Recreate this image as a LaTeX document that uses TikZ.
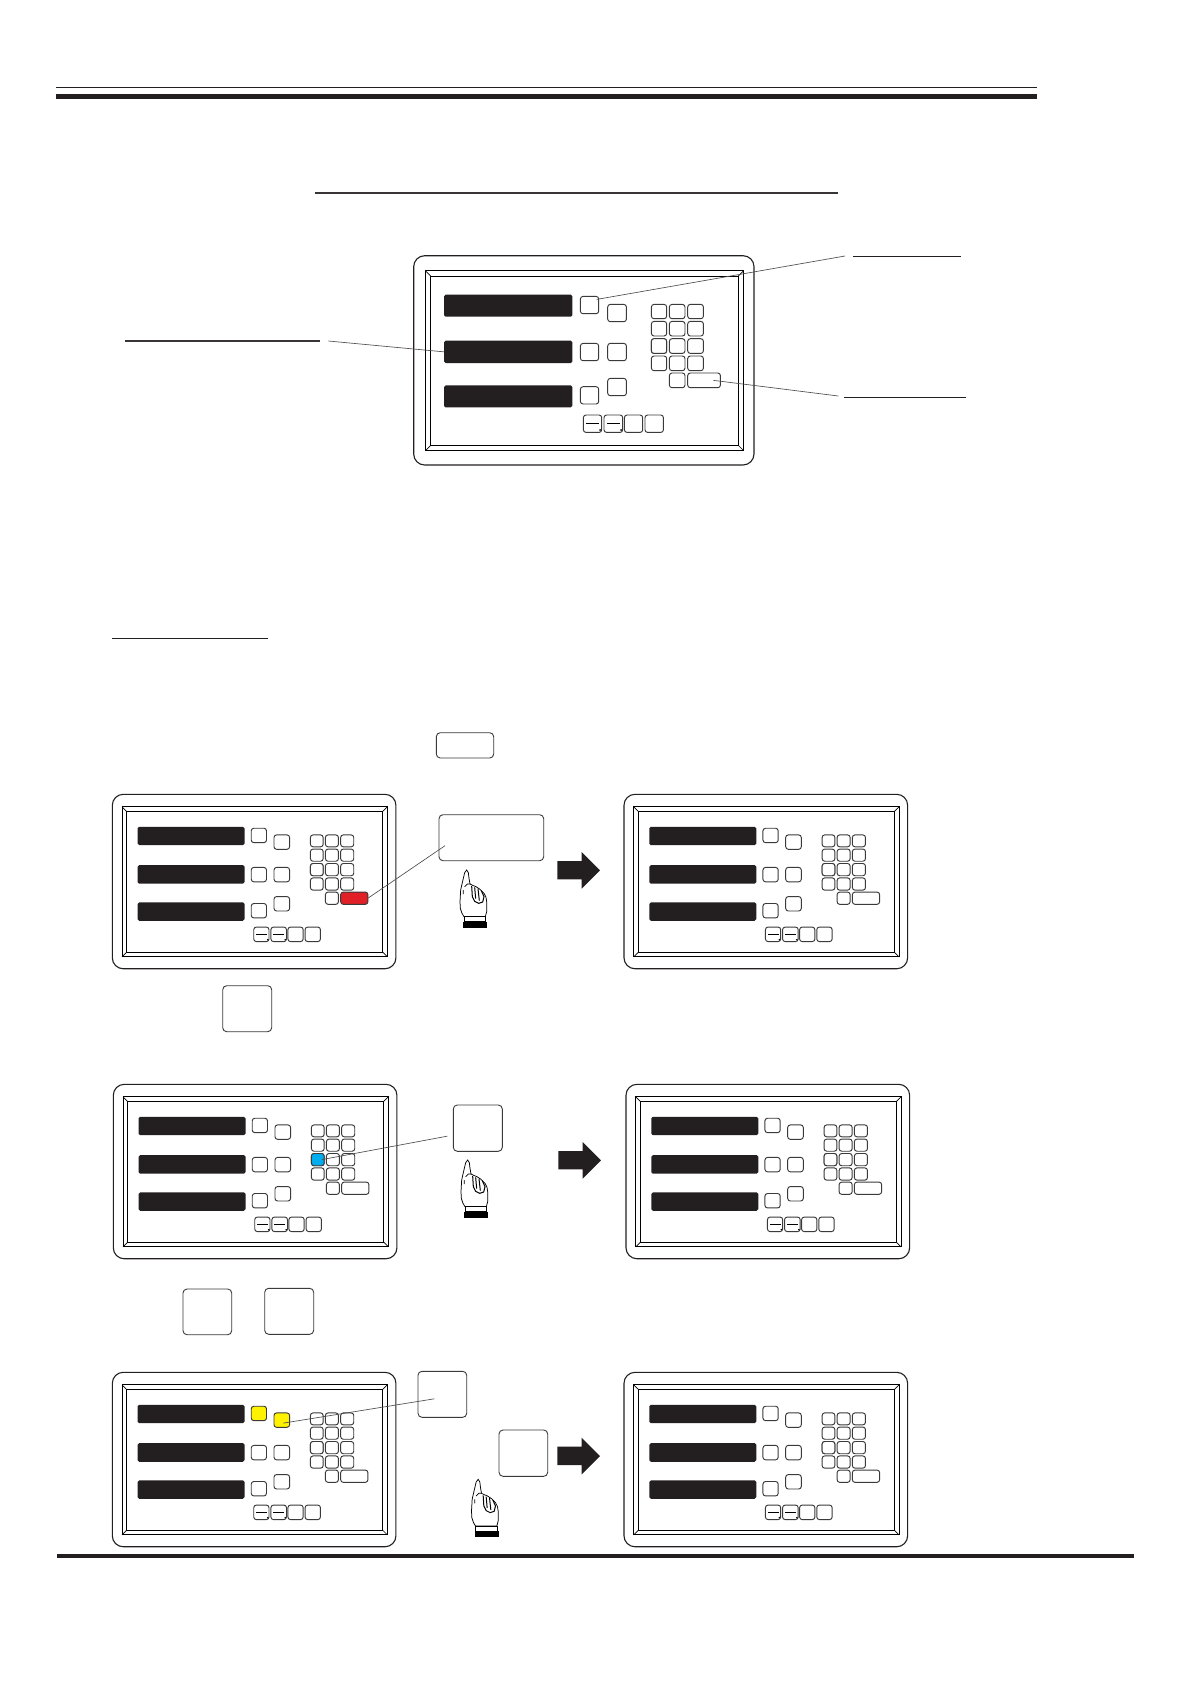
\documentclass[tikz,border=0pt]{standalone}
\usetikzlibrary{calc}
\definecolor{ink}{HTML}{231F20}
\definecolor{keyedge}{HTML}{3A3A3A}
\definecolor{keyred}{HTML}{E01F26}
\definecolor{keyblue}{HTML}{00AEEF}
\definecolor{keyyellow}{HTML}{FFF200}
\tikzset{
  box/.style={draw=keyedge,line width=.95pt,inner sep=0,outer sep=0,rounded corners=2.6pt,fill=white},
  bigbox/.style={draw=keyedge,line width=.9pt,inner sep=0,outer sep=0,rounded corners=4pt,fill=white},
  displaybar/.style={fill=ink,inner sep=0,outer sep=0,rounded corners=1.6pt},
  shell/.style={draw=ink,line width=1.1pt,inner sep=0,outer sep=0,rounded corners=11pt},
  bezel/.style={draw=black,line width=1pt,inner sep=0,outer sep=0},
  bevel/.style={draw=black,line width=.7pt},
  leader/.style={draw=ink!80,line width=.65pt},
  rulethin/.style={draw=ink,line width=1.2pt},
  rulemid/.style={draw=ink!90,line width=2pt},
  bigarrow/.pic={\fill[ink] (0,9)--(24.4,9)--(24.4,0)--(42.7,18.3)--(24.4,36.7)--(24.4,27.3)--(0,27.3)--cycle;},
  handicon/.pic={
    \begin{scope}[scale=1/3]
      \draw[black,line width=.75pt,fill=white,line join=miter]
        (12,140) -- (6,130) -- (1,115) -- (0,95) -- (2,60) -- (6,42) -- (10,25) -- (14,8) -- (20,0) -- (25,8) -- (27,25) -- (30,42)
        -- (38,46) -- (48,50) -- (60,58) -- (72,70) -- (78,82) -- (80,95) -- (80,125) -- (76,140) -- cycle;
      \draw[black,line width=.75pt] (10,60) -- (10,72) (14,50) -- (22,42) -- (30,42);
      \draw[black,line width=1pt] (35,48) -- (37,80) -- (44,94) -- (56,100) -- (68,96) -- (72,80) -- (64,62);
      \draw[black,line width=1pt] (44,52) -- (47,86) (54,56) -- (58,92);
      \draw[black,line width=.75pt,fill=white] (12,140) rectangle (77,155);
      \fill[black] (9,155) rectangle (81,173);
    \end{scope}
  }
}
% key box given by its corners, local units
\newcommand\kb[6]{%
  \pgfmathsetmacro\kbw{#4-#2}\pgfmathsetmacro\kbh{#5-#3}%
  \node[#6,minimum width=\kbw pt,minimum height=\kbh pt] (#1) at ({(#2+#4)/2},{(#3+#5)/2}) {};}
% name, x, y, scale, fill of a1, of b1, of enter, of keypad r3c1
\newcommand\panel[8]{%
\begin{scope}[shift={(#2,#3)},scale=#4,transform shape]
  \kb{#1-shell}{0}{0}{340.3}{209.3}{shell}
  \kb{#1-fo}{11.7}{15}{330}{195}{bezel}
  \kb{#1-fi}{17}{20.3}{324.7}{189.7}{bezel}
  \foreach \an in {north west,north east,south west,south east}
    \draw[bevel] (#1-fo.\an) -- (#1-fi.\an);
  \kb{#1-d1}{30.3}{39}{158.7}{61}{displaybar}
  \kb{#1-d2}{30.3}{85}{158.7}{107.3}{displaybar}
  \kb{#1-d3}{30.3}{129.7}{158.7}{151.7}{displaybar}
  \kb{#1-a1}{166.7}{40.7}{185}{58}{box,fill=#5}
  \kb{#1-a2}{166.7}{87.7}{185}{105}{box}
  \kb{#1-a3}{166.7}{131}{185}{148.3}{box}
  \kb{#1-b1}{194}{48.7}{212.7}{66}{box,fill=#6}
  \kb{#1-b2}{194}{87.7}{212.7}{105}{box}
  \kb{#1-b3}{194}{122.7}{212.7}{140}{box}
  \foreach \rn/\ya/\yb in {1/48.7/63,2/65.7/80.3,3/83/97.7,4/100.3/115}{
    \foreach \cn/\xa/\xb in {1/237.7/253,2/255.7/271.3,3/274/289.7}{
      \kb{#1-k\rn\cn}{\xa}{\ya}{\xb}{\yb}{box}
    }
  }
  \kb{#1-k31}{237.7}{83}{253}{97.7}{box,fill=#8}
  \kb{#1-z}{255.7}{117.3}{271.3}{132}{box}
  \kb{#1-en}{274}{117.3}{306.7}{132}{box,fill=#7}
  \foreach \cn/\xa/\xb in {1/169.7/188,2/190.3/209,3/210.7/229,4/231.3/249.7}{
    \kb{#1-f\cn}{\xa}{159.3}{\xb}{176.7}{box}
  }
  \foreach \cn in {1,2}{
    \draw[black,line width=.9pt] ($(#1-f\cn.west)+(2.8,0)$) -- ($(#1-f\cn.east)+(-2.4,0)$);
    \fill[black] ($(#1-f\cn.south east)+(-1.6,-2.3)$) circle (1pt);
  }
\end{scope}}
\begin{document}
\begin{tikzpicture}[x=1pt,y=-1pt]
\useasboundingbox[fill=white] (0,0) rectangle (1190,1684);
% page rules
\draw[rulethin] (56,87.3) -- (1036.8,87.3);
\fill[ink] (56,94) rectangle (1036.8,99);
\draw[rulemid] (315,193) -- (838,193);
\draw[rulethin] (853,256.5) -- (961,256.5);
\draw[rulethin] (844,397.5) -- (966,397.5);
\draw[rulemid] (125,340.7) -- (320,340.7);
\draw[rulethin,line width=1.3pt] (112,638.3) -- (268,638.3);
\fill[ink] (57,1554) rectangle (1134,1557.8);
% panels
\panel{pA}{413.7}{255.7}{1}{white}{white}{white}{white}
\panel{pB}{112.3}{794.3}{.8335}{white}{white}{keyred}{white}
\panel{pC}{624}{794.3}{.8335}{white}{white}{white}{white}
\panel{pD}{113.3}{1084.3}{.8335}{white}{white}{white}{keyblue}
\panel{pE}{626}{1084.3}{.8335}{white}{white}{white}{white}
\panel{pF}{112.3}{1372.3}{.8335}{keyyellow}{keyyellow}{white}{white}
\panel{pG}{624}{1372.3}{.8335}{white}{white}{white}{white}
% loose buttons
\kb{btnA}{436.3}{732.7}{493.7}{758}{bigbox}
\kb{btnB}{439}{814.7}{543.7}{860.7}{bigbox}
\kb{btnC}{222.7}{985.7}{271.7}{1031.7}{bigbox}
\kb{btnD}{453.3}{1105}{502.3}{1151.3}{bigbox}
\kb{btnE}{183}{1289}{231.7}{1334.7}{bigbox}
\kb{btnF}{264.7}{1288.3}{313.7}{1334.3}{bigbox}
\kb{btnG}{418}{1371.3}{466.7}{1417.3}{bigbox}
\kb{btnH}{499}{1430}{547.7}{1476.3}{bigbox}
% free ends of the leaders
\coordinate (tipTop) at (845,256);
\coordinate (tipLeft) at (328.3,341);
\coordinate (tipRight) at (838.3,396);
% leaders
\draw[leader] ($(pA-a1.north east)+(-2,3)$) -- (tipTop);
\draw[leader] (tipLeft) -- (pA-d2.west);
\draw[leader] ($(pA-en.east)+(-7,0)$) -- (tipRight);
\draw[leader] ($(btnB.south west)+(6,-15)$) -- (pB-en.east);
\draw[leader] ($(btnD.west)+(-6,8)$) -- ($(pD-k31.center)+(4,0)$);
\draw[leader] ($(btnG.center)+(-8,4.5)$) -- ($(pF-b1.center)+(1.5,3)$);
% hands
\pic (handA) at (460,870) {handicon};
\pic (handB) at (461,1160) {handicon};
\pic (handC) at (471.5,1479.3) {handicon};
% arrows
\pic (arrA) at (557.3,852) {bigarrow};
\pic (arrB) at (558.3,1142) {bigarrow};
\pic (arrC) at (557.3,1437.7) {bigarrow};
\end{tikzpicture}
\end{document}
